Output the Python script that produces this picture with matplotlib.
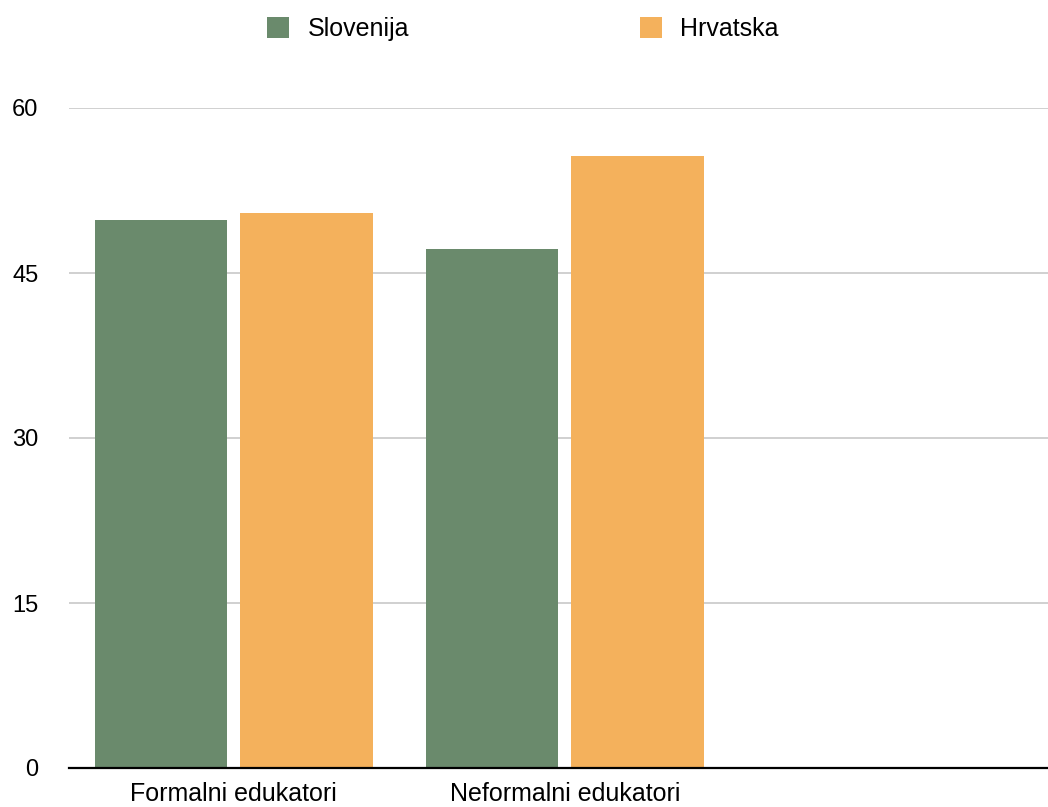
import matplotlib
matplotlib.use("Agg")
import matplotlib.pyplot as plt
import numpy as np
from matplotlib.patches import Patch

plt.rcParams['font.family'] = ['Liberation Sans', 'DejaVu Sans']

categories = ["Formalni edukatori", "Neformalni edukatori", ""]
series_names = ["Slovenija", "Hrvatska"]
slovenija = [49.8, 47.2, np.nan]
hrvatska = [50.5, 55.6, np.nan]
yticks = [0, 15, 30, 45, 60]

colors = ["#6a8a6c", "#f4b15c"]

W, H = 1048, 807
fig = plt.figure(figsize=(W / 100, H / 100), dpi=100)
left_px, right_px, top_px, bottom_px = 69, 1048, 108, 768
ax = fig.add_axes([left_px / W, 1 - bottom_px / H, (right_px - left_px) / W, (bottom_px - top_px) / H])

x = np.arange(len(categories))
width = 0.40
offset = 0.22
ax.bar(x - offset, slovenija, width, color=colors[0], zorder=3)
ax.bar(x + offset, hrvatska, width, color=colors[1], zorder=3)

ax.set_ylim(0, 60)
ax.set_xlim(-0.498, 2.46)
ax.set_yticks(yticks)
ax.set_yticklabels([str(v) for v in yticks])
ax.set_xticks(x[:2])
ax.set_xticklabels(categories[:2])
ax.tick_params(axis='y', length=0, labelsize=17, colors='black', pad=22)
ax.tick_params(axis='x', length=0, labelsize=18, colors='black', pad=10)

for v in yticks[1:]:
    ax.axhline(v, color='#c8c8c8', linewidth=1.2, zorder=1)
for s in ['top', 'right', 'left']:
    ax.spines[s].set_visible(False)
ax.spines['bottom'].set_color('black')
ax.spines['bottom'].set_linewidth(1.6)
ax.spines['bottom'].set_zorder(4)

handles = [Patch(facecolor=c, edgecolor='none') for c in colors]
fig.legend(handles, series_names, loc='center', bbox_to_anchor=(523 / W, 1 - 29 / H),
           ncol=2, frameon=False, fontsize=18, handlelength=0.88, handleheight=0.88,
           handletextpad=0.76, columnspacing=9.2)

fig.savefig("out.png", dpi=100, facecolor='white')
